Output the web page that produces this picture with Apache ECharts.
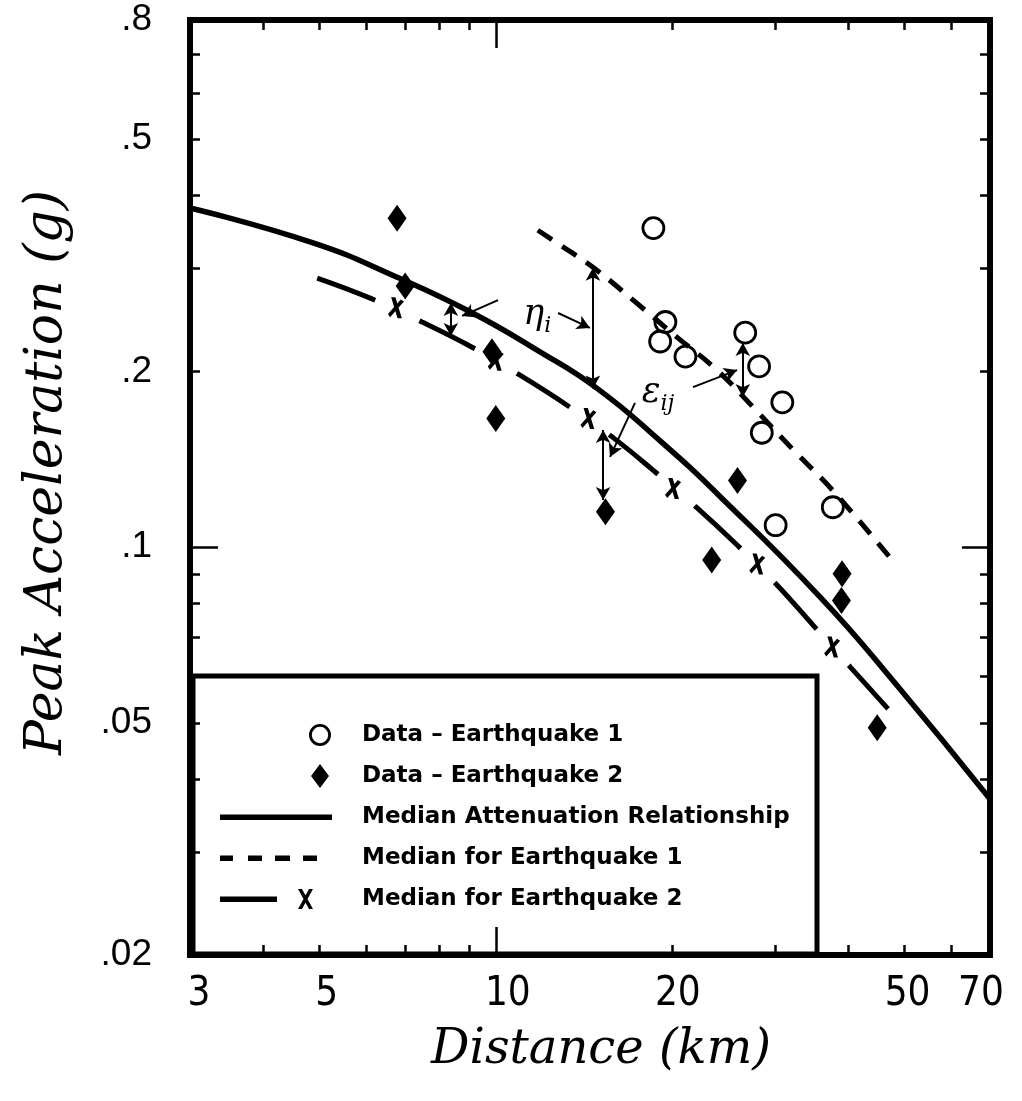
<!DOCTYPE html>
<html>
<head>
<meta charset="utf-8">
<script src="https://cdn.jsdelivr.net/npm/echarts@6/dist/echarts.min.js"></script>
<style>
html,body{margin:0;padding:0;background:#fff;}
#chart{width:1022px;height:1101px;}
</style>
</head>
<body>
<div id="chart"></div>
<script>
// ---------- data ----------
const eq1Dist = [18.6, 19.5, 19.1, 21.1, 26.7, 28.2, 30.9, 28.5, 30.1, 37.7];
const eq1PGA  = [0.352, 0.243, 0.225, 0.212, 0.233, 0.204, 0.177, 0.157, 0.109, 0.117];

const eq2Dist = [6.78, 7.00, 9.85, 10.0, 15.4, 23.4, 25.9, 39.1, 39.0, 44.9];
const eq2PGA  = [0.366, 0.280, 0.216, 0.166, 0.115, 0.095, 0.130, 0.090, 0.081, 0.049];

const medianDist = [3, 4.87, 6.78, 9.04, 11.9, 14.9, 19.1, 24.2, 35.9, 47.8, 70];
const medianPGA  = [0.381, 0.332, 0.290, 0.253, 0.216, 0.187, 0.152, 0.122, 0.082, 0.059, 0.037];

const eq1MedianDist = [11.8, 12.9, 14.7, 17.4, 20.4, 23.9, 27.5, 32.2, 37.7, 47.2];
const eq1MedianPGA  = [0.349, 0.329, 0.301, 0.262, 0.229, 0.201, 0.174, 0.147, 0.125, 0.096];

const eq2MedianDist = [4.95, 6.10, 7.48, 9.11, 11.0, 13.24, 15.87, 18.57, 22.09, 25.86, 30.26, 34.87, 40.5, 46.85];
const eq2MedianPGA  = [0.289, 0.267, 0.243, 0.220, 0.197, 0.175, 0.154, 0.1355, 0.1167, 0.1008, 0.0861, 0.0735, 0.0621, 0.0528];

const eq2MarkDist = [6.75, 10.0, 14.4, 20.1, 28.0, 37.6];
const eq2MarkPGA  = [0.257, 0.209, 0.166, 0.126, 0.0935, 0.0674];

// axis ticks / labels
const xLabelValues = [3, 5, 10, 20, 50, 70];
const xLabelText   = ['3', '5', '10', '20', '50', '70'];
const xMinorTicks  = [4, 5, 6, 7, 8, 9, 20, 30, 40, 50, 60];
const xMajorTicks  = [10];
const yLabelValues = [0.02, 0.05, 0.1, 0.2, 0.5, 0.8];
const yLabelText   = ['.02', '.05', '.1', '.2', '.5', '.8'];
const yMinorTicks  = [0.03, 0.04, 0.05, 0.06, 0.07, 0.08, 0.09, 0.2, 0.3, 0.4, 0.5, 0.6, 0.7];
const yMajorTicks  = [0.1];

// annotations (data coordinates)
const doubleArrowDist = [14.66, 8.38, 26.45, 15.26];
const doubleArrowTop  = [0.301, 0.262, 0.2237, 0.1587];
const doubleArrowBot  = [0.187, 0.230, 0.1807, 0.1204];
const pointerFrom = [[12.78, 0.2518], [10.09, 0.265], [21.74, 0.188], [17.3, 0.1766]];
const pointerTo   = [[14.49, 0.2374], [8.76, 0.2489], [25.86, 0.201], [15.68, 0.1427]];
const symbolLabels = [
  { text: '{e|η}{s|i}', at: [11.77, 0.2497] },
  { text: '{e|ε}{s|ij}', at: [18.94, 0.1837] }
];

// ---------- helpers ----------
const zip = (a, b) => a.map((v, i) => [v, b[i]]);
const nearestIdx = (arr, v) => {
  let best = 0, bd = Infinity;
  arr.forEach((a, i) => { const d = Math.abs(Math.log(a) - Math.log(v)); if (d < bd) { bd = d; best = i; } });
  return best;
};
const xLabelShift = [9, 7, 12, 6, 3, -9];
const xRich = {};
xLabelShift.forEach((s, i) => {
  xRich['l' + i] = {
    fontFamily: '"Liberation Sans Narrow","DejaVu Sans Condensed","Liberation Sans",sans-serif',
    fontSize: 40, color: '#000',
    padding: s >= 0 ? [0, 0, 0, 2 * s] : [0, -2 * s, 0, 0]
  };
});

const corners = 'M0,0 L0.2,0 L0,0.2 Z M114,24 L113.8,24 L114,23.8 Z ';
const iconCircle = 'path://' + corners +
  'M113,12 A11,11 0 0,0 91,12 A11,11 0 0,0 113,12 Z M110.2,12 A8.2,8.2 0 0,1 93.8,12 A8.2,8.2 0 0,1 110.2,12 Z';
const iconDiamond = 'path://' + corners + 'M102,0 L111,12 L102,24 L93,12 Z';
const iconSolid = 'path://' + corners + 'M2,9.5 L114,9.5 L114,15 L2,15 Z';
const iconDashed = 'path://' + corners +
  'M2,9.5 L15,9.5 L15,15 L2,15 Z M30,9.5 L44,9.5 L44,15 L30,15 Z M57,9.5 L72,9.5 L72,15 L57,15 Z M85,9.5 L99,9.5 L99,15 L85,15 Z';
const iconLongX = 'path://' + corners +
  'M2,9.5 L59,9.5 L59,15 L2,15 Z M80,2 L84,2 L95,22 L91,22 Z M91,2 L95,2 L84,22 L80,22 Z';
const xMarkSymbol = 'path://M3,0 L7,0 L13,20 L9,20 Z M12,2 L15,4 L2,19 L0,16 Z';

// ---------- chart ----------
const chart = echarts.init(document.getElementById('chart'), null, { renderer: 'canvas' });

const tickStyle = { color: '#000', width: 2.5 };
function xAxisDef(pos, ticks, len, withLabels) {
  return {
    type: 'log', logBase: 10, min: 3, max: 70, position: pos, gridIndex: 0,
    axisLine: { show: false },
    splitLine: { show: false },
    minorTick: { show: false },
    axisTick: { show: true, inside: true, length: len, lineStyle: tickStyle, customValues: ticks },
    axisLabel: withLabels ? {
      show: true, customValues: xLabelValues, margin: 20,
      formatter: v => { const i = nearestIdx(xLabelValues, v); return '{l' + i + '|' + xLabelText[i] + '}'; },
      rich: xRich
    } : { show: false },
    name: withLabels ? 'Distance (km)' : '',
    nameLocation: 'middle', nameGap: 72,
    nameTextStyle: { fontFamily: '"DejaVu Serif",serif', fontStyle: 'italic', fontSize: 48, color: '#000', padding: [0, 0, 0, 22] }
  };
}
function yAxisDef(pos, ticks, len, withLabels) {
  return {
    type: 'log', logBase: 10, min: 0.02, max: 0.8, position: pos, gridIndex: 0,
    axisLine: { show: false },
    splitLine: { show: false },
    minorTick: { show: false },
    axisTick: { show: true, inside: true, length: len, lineStyle: tickStyle, customValues: ticks },
    axisLabel: withLabels ? {
      show: true, customValues: yLabelValues, margin: 38,
      fontFamily: '"Liberation Sans",Arial,sans-serif', fontSize: 37, color: '#000',
      formatter: v => yLabelText[nearestIdx(yLabelValues, v)]
    } : { show: false },
    name: withLabels ? 'Peak Acceleration (g)' : '',
    nameLocation: 'middle', nameGap: 117,
    nameTextStyle: { fontFamily: '"DejaVu Serif",serif', fontStyle: 'italic', fontSize: 52, color: '#000', padding: [0, 0, 0, 30] }
  };
}

const annotLines = [];
doubleArrowDist.forEach((d, i) => {
  annotLines.push([{ coord: [d, doubleArrowTop[i]], symbol: 'arrow' }, { coord: [d, doubleArrowBot[i]], symbol: 'arrow' }]);
});
pointerFrom.forEach((p, i) => {
  annotLines.push([{ coord: p, symbol: 'none' }, { coord: pointerTo[i], symbol: 'arrow' }]);
});

const option = {
  backgroundColor: '#fff',
  animation: false,
  grid: {
    left: 190, right: 32, top: 20, bottom: 146,
    show: true, borderColor: '#000', borderWidth: 6, backgroundColor: 'transparent',
    containLabel: false, outerBoundsMode: 'none'
  },
  xAxis: [
    xAxisDef('bottom', xMinorTicks, 10, true),
    xAxisDef('bottom', xMajorTicks, 28, false),
    xAxisDef('top', xMinorTicks, 10, false),
    xAxisDef('top', xMajorTicks, 28, false)
  ],
  yAxis: [
    yAxisDef('left', yMinorTicks, 10, true),
    yAxisDef('left', yMajorTicks, 28, false),
    yAxisDef('right', yMinorTicks, 10, false),
    yAxisDef('right', yMajorTicks, 28, false)
  ],
  legend: {
    show: true, orient: 'vertical', left: 193, top: 676,
    padding: [47, 25, 43, 25], itemGap: 17, itemWidth: 114, itemHeight: 24,
    borderColor: '#000', borderWidth: 5, backgroundColor: 'transparent',
    selectedMode: false, symbolKeepAspect: true,
    textStyle: {
      fontFamily: '"DejaVu Sans",sans-serif', fontWeight: 'bold', fontSize: 23, color: '#000',
      lineHeight: 24, padding: [0, 0, 0, 25], width: 430, overflow: 'none'
    },
    data: [
      { name: 'Data – Earthquake 1', icon: iconCircle, itemStyle: { color: '#000', borderWidth: 0, opacity: 1 } },
      { name: 'Data – Earthquake 2', icon: iconDiamond, itemStyle: { color: '#000', borderWidth: 0, opacity: 1 } },
      { name: 'Median Attenuation Relationship', icon: iconSolid, itemStyle: { color: '#000', borderWidth: 0, opacity: 1 } },
      { name: 'Median for Earthquake 1', icon: iconDashed, itemStyle: { color: '#000', borderWidth: 0, opacity: 1 } },
      { name: 'Median for Earthquake 2', icon: iconLongX, itemStyle: { color: '#000', borderWidth: 0, opacity: 1 } }
    ]
  },
  series: [
    {
      name: 'Median Attenuation Relationship', type: 'line', xAxisIndex: 0, yAxisIndex: 0,
      data: zip(medianDist, medianPGA), smooth: 0.5, showSymbol: false, symbol: 'none',
      lineStyle: { color: '#000', width: 5.5, type: 'solid' }, z: 3,
      markLine: {
        silent: true, animation: false, symbolSize: [11, 13], precision: 4,
        label: { show: false },
        lineStyle: { color: '#000', width: 2, type: 'solid', opacity: 1 },
        emphasis: { disabled: true },
        data: annotLines
      },
      markPoint: {
        silent: true, animation: false, symbol: 'circle', symbolSize: 1,
        itemStyle: { color: 'rgba(0,0,0,0)' },
        label: {
          show: true, position: 'inside', color: '#000',
          rich: {
            e: { fontFamily: '"DejaVu Serif",serif', fontStyle: 'italic', fontSize: 35, color: '#000' },
            s: { fontFamily: '"DejaVu Serif",serif', fontStyle: 'italic', fontSize: 22, color: '#000', lineHeight: 44, verticalAlign: 'bottom' }
          }
        },
        data: symbolLabels.map(l => ({ coord: l.at, label: { formatter: l.text } }))
      }
    },
    {
      name: 'Median for Earthquake 1', type: 'line', xAxisIndex: 0, yAxisIndex: 0,
      data: zip(eq1MedianDist, eq1MedianPGA), smooth: 0.4, showSymbol: false, symbol: 'none',
      lineStyle: { color: '#000', width: 5, type: [17, 12] }, z: 3
    },
    {
      name: 'Median for Earthquake 2', type: 'line', xAxisIndex: 0, yAxisIndex: 0,
      data: zip(eq2MedianDist, eq2MedianPGA), smooth: 0.4, showSymbol: false, symbol: 'none',
      lineStyle: { color: '#000', width: 5, type: [62, 49] }, z: 3
    },
    {
      name: 'Median for Earthquake 2', type: 'scatter', xAxisIndex: 0, yAxisIndex: 0,
      data: zip(eq2MarkDist, eq2MarkPGA), symbol: xMarkSymbol, symbolSize: [16, 21],
      itemStyle: { color: '#000', opacity: 1 }, z: 4
    },
    {
      name: 'Data – Earthquake 1', type: 'scatter', xAxisIndex: 0, yAxisIndex: 0,
      data: zip(eq1Dist, eq1PGA), symbol: 'circle', symbolSize: 21,
      itemStyle: { color: 'rgba(255,255,255,0)', borderColor: '#000', borderWidth: 2.8, opacity: 1 }, z: 5
    },
    {
      name: 'Data – Earthquake 2', type: 'scatter', xAxisIndex: 0, yAxisIndex: 0,
      data: zip(eq2Dist, eq2PGA), symbol: 'diamond', symbolSize: [19, 27],
      itemStyle: { color: '#000', opacity: 1 }, z: 5
    }
  ]
};
chart.setOption(option);
</script>
</body>
</html>
